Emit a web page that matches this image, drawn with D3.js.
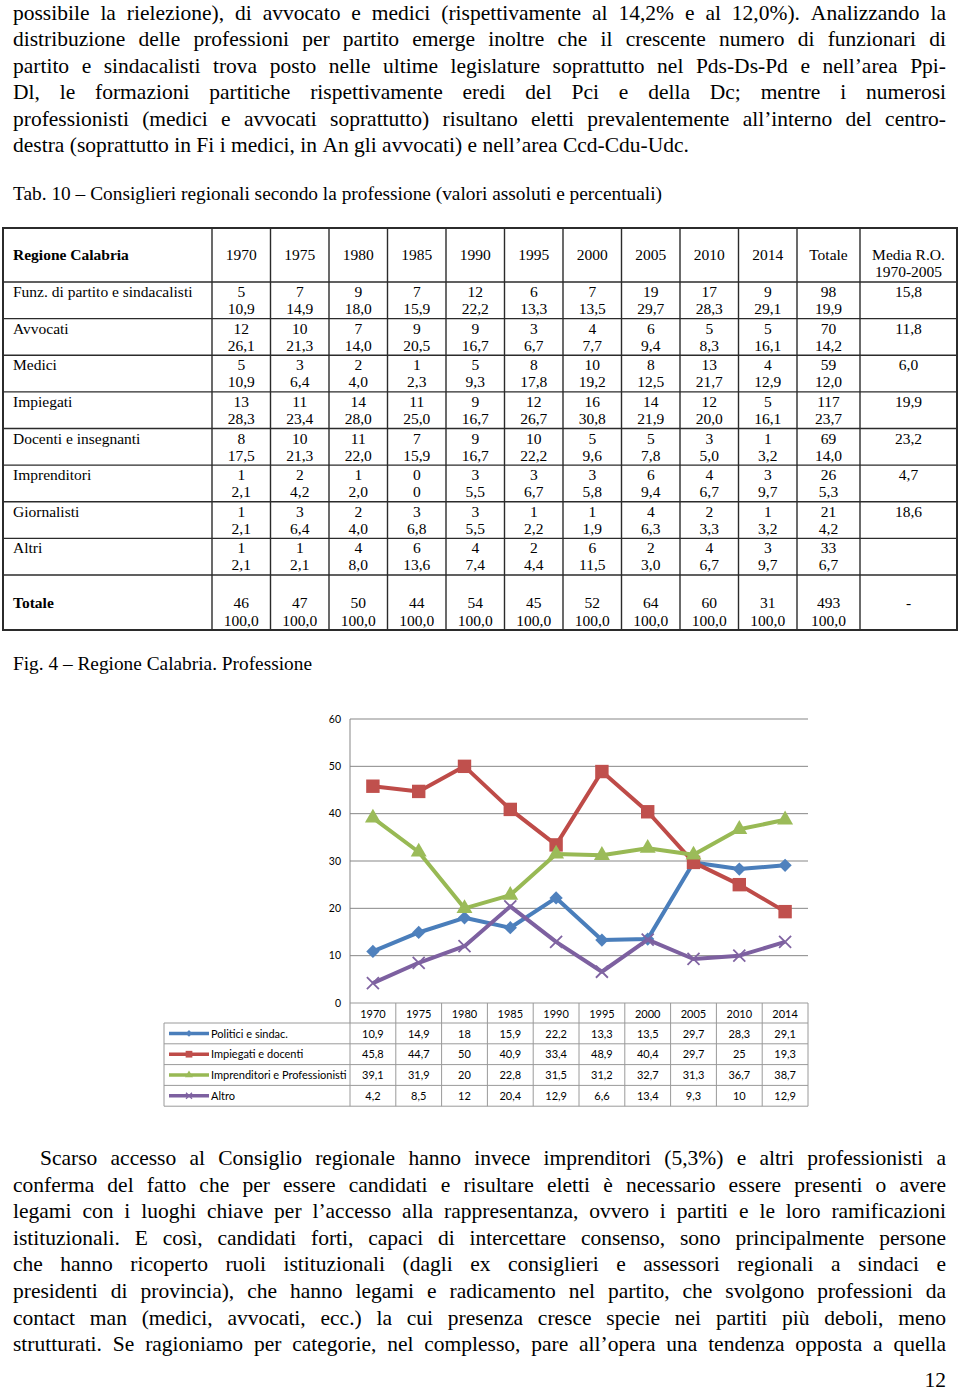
<!DOCTYPE html>
<html><head><meta charset="utf-8">
<script src="https://cdn.jsdelivr.net/npm/d3@7"></script>
<style>body{margin:0;background:#fff}svg{display:block}</style>
</head><body>
<svg id="page" width="960" height="1392"></svg>
<script>
// ---------- DATA ----------
const years = ["1970","1975","1980","1985","1990","1995","2000","2005","2010","2014"];
const seriesNames = ["Politici e sindac.","Impiegati e docenti","Imprenditori e Professionisti","Altro"];
const politiciSindac = [10.9,14.9,18,15.9,22.2,13.3,13.5,29.7,28.3,29.1];
const impiegatiDocenti = [45.8,44.7,50,40.9,33.4,48.9,40.4,29.7,25,19.3];
const imprenditoriProf = [39.1,31.9,20,22.8,31.5,31.2,32.7,31.3,36.7,38.7];
const altro = [4.2,8.5,12,20.4,12.9,6.6,13.4,9.3,10,12.9];
const yTicks = [0,10,20,30,40,50,60];

const tableRowLabels = ["Funz. di partito e sindacalisti","Avvocati","Medici","Impiegati","Docenti e insegnanti","Imprenditori","Giornalisti","Altri"];
const tableCounts = [
  ["5","7","9","7","12","6","7","19","17","9","98"],
  ["12","10","7","9","9","3","4","6","5","5","70"],
  ["5","3","2","1","5","8","10","8","13","4","59"],
  ["13","11","14","11","9","12","16","14","12","5","117"],
  ["8","10","11","7","9","10","5","5","3","1","69"],
  ["1","2","1","0","3","3","3","6","4","3","26"],
  ["1","3","2","3","3","1","1","4","2","1","21"],
  ["1","1","4","6","4","2","6","2","4","3","33"]
];
const tablePcts = [
  ["10,9","14,9","18,0","15,9","22,2","13,3","13,5","29,7","28,3","29,1","19,9"],
  ["26,1","21,3","14,0","20,5","16,7","6,7","7,7","9,4","8,3","16,1","14,2"],
  ["10,9","6,4","4,0","2,3","9,3","17,8","19,2","12,5","21,7","12,9","12,0"],
  ["28,3","23,4","28,0","25,0","16,7","26,7","30,8","21,9","20,0","16,1","23,7"],
  ["17,5","21,3","22,0","15,9","16,7","22,2","9,6","7,8","5,0","3,2","14,0"],
  ["2,1","4,2","2,0","0","5,5","6,7","5,8","9,4","6,7","9,7","5,3"],
  ["2,1","6,4","4,0","6,8","5,5","2,2","1,9","6,3","3,3","3,2","4,2"],
  ["2,1","2,1","8,0","13,6","7,4","4,4","11,5","3,0","6,7","9,7","6,7"]
];
const tableMedia = ["15,8","11,8","6,0","19,9","23,2","4,7","18,6",""];
const totalCounts = ["46","47","50","44","54","45","52","64","60","31","493"];
const totalPcts = ["100,0","100,0","100,0","100,0","100,0","100,0","100,0","100,0","100,0","100,0","100,0"];
const totalMedia = "-";
const tableHeaderCols = years.concat(["Totale"]);

const para1 = [
  "possibile la rielezione), di avvocato e medici (rispettivamente al 14,2% e al 12,0%). Analizzando la",
  "distribuzione delle professioni per partito emerge inoltre che il crescente numero di funzionari di",
  "partito e sindacalisti trova posto nelle ultime legislature soprattutto nel Pds-Ds-Pd e nell’area Ppi-",
  "Dl, le formazioni partitiche rispettivamente eredi del Pci e della Dc; mentre i numerosi",
  "professionisti (medici e avvocati soprattutto) risultano eletti prevalentemente all’interno del centro-",
  "destra (soprattutto in Fi i medici, in An gli avvocati) e nell’area Ccd-Cdu-Udc."
];
const para2 = [
  "Scarso accesso al Consiglio regionale hanno invece imprenditori (5,3%) e altri professionisti a",
  "conferma del fatto che per essere candidati e risultare eletti è necessario essere presenti o avere",
  "legami con i luoghi chiave per l’accesso alla rappresentanza, ovvero i partiti e le loro ramificazioni",
  "istituzionali. E così, candidati forti, capaci di intercettare consenso, sono principalmente persone",
  "che hanno ricoperto ruoli istituzionali (dagli ex consiglieri e assessori regionali a sindaci e",
  "presidenti di provincia), che hanno legami e radicamento nel partito, che svolgono professioni da",
  "contact man (medici, avvocati, ecc.) la cui presenza cresce specie nei partiti più deboli, meno",
  "strutturati. Se ragioniamo per categorie, nel complesso, pare all’opera una tendenza opposta a quella"
];
const tabCaption = "Tab. 10 – Consiglieri regionali secondo la professione (valori assoluti e percentuali)";
const figCaption = "Fig. 4 – Regione Calabria. Professione";
const pageNumber = "12";

// ---------- RENDER ----------
const svg = d3.select("#page");
const SERIF = "'Liberation Serif','Times New Roman',serif";
const SANS = "Lato,'Open Sans',sans-serif";
const BODY_SIZE = 21.5;

function measure(str, size, family, weight) {
  const t = svg.append("text").attr("font-family", family).attr("font-size", size)
    .attr("font-weight", weight || "normal").text(str);
  const w = t.node().getComputedTextLength();
  t.remove();
  return w;
}

// calibrate horizontal scale from para1 last line (ends at ~743)
const lastNat = measure(para1[para1.length-1], BODY_SIZE, SERIF);
const hScale = Math.min(1, (743 - 13) / lastNat);

function drawParagraph(lines, left, right, base0, lh, indent, justifyLast) {
  const g = svg.append("g");
  const spaceW = measure("a a", BODY_SIZE, SERIF) - measure("aa", BODY_SIZE, SERIF);
  lines.forEach((line, li) => {
    const words = line.split(" ");
    const ws = words.map(w => measure(w, BODY_SIZE, SERIF) * hScale);
    const x0 = left + (li === 0 ? indent : 0);
    const by = base0 + li * lh;
    const justify = li < lines.length - 1 || justifyLast;
    let gap = spaceW * hScale;
    if (justify && words.length > 1) {
      gap = (right - x0 - d3.sum(ws)) / (words.length - 1);
    }
    let x = x0;
    words.forEach((w, i) => {
      g.append("text").attr("transform", `translate(${x},${by}) scale(${hScale},1)`)
        .attr("font-family", SERIF).attr("font-size", BODY_SIZE).attr("fill", "#000").text(w);
      x += ws[i] + gap;
    });
  });
}

drawParagraph(para1, 13, 946, 19.5, 26.5, 0, false);
drawParagraph(para2, 13, 946, 1165, 26.6, 27, true);

svg.append("text").attr("x", 946).attr("y", 1386.5).attr("text-anchor", "end")
  .attr("font-family", SERIF).attr("font-size", BODY_SIZE).text(pageNumber);

svg.append("text").attr("x", 13).attr("y", 200).attr("font-family", SERIF).attr("font-size", 18)
  .attr("textLength", 649).attr("lengthAdjust", "spacingAndGlyphs").text(tabCaption);
svg.append("text").attr("x", 13).attr("y", 670).attr("font-family", SERIF).attr("font-size", 18)
  .attr("textLength", 299).attr("lengthAdjust", "spacingAndGlyphs").text(figCaption);

// ---------- TABLE ----------
const tg = svg.append("g");
const colX = d3.scaleBand().domain(years).range([212, 797]);
const colCenters = years.map(yv => colX(yv) + colX.bandwidth()/2).concat([828.5]);
const mediaCenter = 908.5;
const rowY = d3.scaleBand().domain(tableRowLabels).range([282, 575]);
const tTop = 228, tHead = 282, tTotTop = 575, tBottom = 630, tLeft = 3, tRight = 957;
const borders = [212].concat(years.map(yv => colX(yv) + colX.bandwidth()), [860]);
const lineC = "#2b2b2b";
[tHead].concat(tableRowLabels.map(r => rowY(r) + rowY.bandwidth())).forEach(yv => {
  tg.append("line").attr("x1", tLeft).attr("x2", tRight).attr("y1", yv).attr("y2", yv)
    .attr("stroke", lineC).attr("stroke-width", 1.4);
});
borders.forEach(xv => {
  tg.append("line").attr("x1", xv).attr("x2", xv).attr("y1", tTop).attr("y2", tBottom)
    .attr("stroke", lineC).attr("stroke-width", 1.4);
});
tg.append("rect").attr("x", tLeft).attr("y", tTop).attr("width", tRight - tLeft).attr("height", tBottom - tTop)
  .attr("fill", "none").attr("stroke", lineC).attr("stroke-width", 2);

const TS = 15.5;
function ttext(x, y, s, anchor, bold) {
  tg.append("text").attr("x", x).attr("y", y).attr("text-anchor", anchor || "middle")
    .attr("font-family", SERIF).attr("font-size", TS).attr("font-weight", bold ? "bold" : "normal")
    .attr("fill", "#000").text(s);
}
ttext(13, 260, "Regione Calabria", "start", true);
tableHeaderCols.forEach((h, i) => ttext(colCenters[i], 260, h));
ttext(mediaCenter, 260, "Media R.O.");
ttext(mediaCenter, 277, "1970-2005");
tableRowLabels.forEach((lab, r) => {
  const top = rowY(lab);
  ttext(13, top + 15, lab, "start");
  tableCounts[r].forEach((v, i) => ttext(colCenters[i], top + 15, v));
  tablePcts[r].forEach((v, i) => ttext(colCenters[i], top + 32, v));
  ttext(mediaCenter, top + 15, tableMedia[r]);
});
ttext(13, tTotTop + 33, "Totale", "start", true);
totalCounts.forEach((v, i) => ttext(colCenters[i], tTotTop + 33, v));
totalPcts.forEach((v, i) => ttext(colCenters[i], tTotTop + 51, v));
ttext(mediaCenter, tTotTop + 33, totalMedia);

// ---------- CHART ----------
const cg = svg.append("g");
const x = d3.scaleBand().domain(years).range([350, 808]);
const y = d3.scaleLinear().domain([0, 60]).range([1003, 719]);
const cx = yr => x(yr) + x.bandwidth()/2;
const gridC = "#878787";
yTicks.filter(t => t > 0).forEach(t => {
  cg.append("line").attr("x1", 350).attr("x2", 808).attr("y1", y(t)).attr("y2", y(t))
    .attr("stroke", gridC).attr("stroke-width", 1);
});
cg.append("line").attr("x1", 350).attr("x2", 350).attr("y1", y(60)).attr("y2", 1023)
  .attr("stroke", gridC).attr("stroke-width", 1);
yTicks.forEach(t => {
  cg.append("text").attr("x", 341).attr("y", y(t) + 3.5).attr("text-anchor", "end")
    .attr("font-family", SANS).attr("font-size", 10.5).attr("fill", "#000").text(t);
});

const series = [politiciSindac, impiegatiDocenti, imprenditoriProf, altro];
const lineColors = ["#4A7EBB", "#BE4B48", "#98B954", "#7D60A0"];
const markColors = ["#4F81BD", "#C0504D", "#9BBB59", "#8064A2"];
const line = d3.line().x((d, i) => cx(years[i])).y(d => y(d));
const markerPath = [
  d3.symbol().type(d3.symbolSquare).size(88)(),
  d3.symbol().type(d3.symbolSquare).size(180)(),
  d3.symbol().type(d3.symbolTriangle).size(110)(),
  "M-6,-6L6,6M-6,6L6,-6"
];
const markerRot = [45, 0, 0, 0];
series.forEach((s, si) => {
  cg.append("path").datum(s).attr("d", line).attr("fill", "none")
    .attr("stroke", lineColors[si]).attr("stroke-width", 4).attr("stroke-linejoin", "round");
  s.forEach((v, i) => {
    const m = cg.append("path").attr("d", markerPath[si])
      .attr("transform", `translate(${cx(years[i])},${y(v)}) rotate(${markerRot[si]})`);
    if (si === 3) m.attr("fill", "none").attr("stroke", markColors[si]).attr("stroke-width", 1.8);
    else m.attr("fill", markColors[si]).attr("stroke", "none");
  });
});

// data table under chart
const dtTop = 1003, dtHead = 1023, dtRowH = 20.8, dtLeft = 164;
const dtBottom = dtHead + dtRowH * seriesNames.length;
const dtC = "#9a9a9a";
const DTS = 11;
const dg = svg.append("g");
dg.append("line").attr("x1", 350).attr("x2", 808).attr("y1", dtTop).attr("y2", dtTop).attr("stroke", dtC);
for (let r = 0; r <= seriesNames.length; r++) {
  const yy = dtHead + r * dtRowH;
  dg.append("line").attr("x1", dtLeft).attr("x2", 808).attr("y1", yy).attr("y2", yy).attr("stroke", dtC);
}
dg.append("line").attr("x1", dtLeft).attr("x2", dtLeft).attr("y1", dtHead).attr("y2", dtBottom).attr("stroke", dtC);
years.forEach(yr => {
  dg.append("line").attr("x1", x(yr) + x.bandwidth()).attr("x2", x(yr) + x.bandwidth())
    .attr("y1", dtTop).attr("y2", dtBottom).attr("stroke", dtC);
});
dg.append("line").attr("x1", 350).attr("x2", 350).attr("y1", dtHead).attr("y2", dtBottom).attr("stroke", dtC);
years.forEach(yr => {
  dg.append("text").attr("x", cx(yr)).attr("y", dtTop + 14.5).attr("text-anchor", "middle")
    .attr("font-family", SANS).attr("font-size", DTS).text(yr);
});
seriesNames.forEach((name, si) => {
  const top = dtHead + si * dtRowH;
  const mid = top + dtRowH / 2;
  dg.append("line").attr("x1", 169).attr("x2", 209).attr("y1", mid).attr("y2", mid)
    .attr("stroke", lineColors[si]).attr("stroke-width", 3.5);
  const km = dg.append("path").attr("d", markerPath[si])
    .attr("transform", `translate(189,${mid}) rotate(${markerRot[si]}) scale(0.5)`);
  if (si === 3) km.attr("fill", "none").attr("stroke", markColors[si]).attr("stroke-width", 2.5);
  else km.attr("fill", markColors[si]);
  dg.append("text").attr("x", 211).attr("y", top + 14.5).attr("font-family", SANS)
    .attr("font-size", DTS).text(name);
  series[si].forEach((v, i) => {
    dg.append("text").attr("x", cx(years[i])).attr("y", top + 14.5).attr("text-anchor", "middle")
      .attr("font-family", SANS).attr("font-size", DTS).text(String(v).replace(".", ","));
  });
});
</script>
</body></html>
